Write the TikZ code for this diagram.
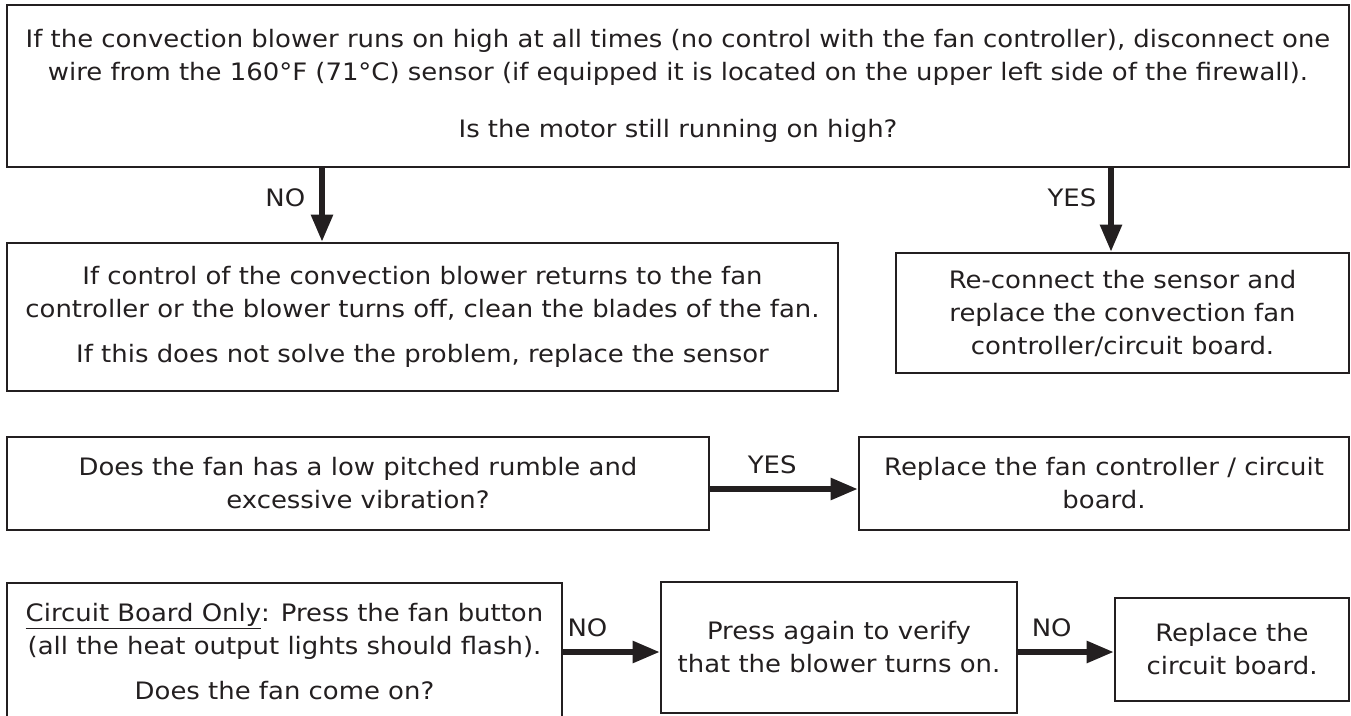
\documentclass[tikz,border=0pt]{standalone}
\usepackage{fontspec}
\setmainfont{DejaVu Sans}[FakeStretch=1.08]
\usetikzlibrary{arrows.meta,positioning}
\definecolor{ink}{HTML}{231F20}

\begin{document}
\begin{tikzpicture}[
    x=1pt, y=-1pt,
    box/.style={rectangle, draw=ink, text=ink, line width=2.6pt, align=center, inner sep=0pt, font=\fontsize{24}{33}\selectfont},
    lbl/.style={text=ink, inner sep=0pt, font=\fontsize{24}{33}\selectfont},
    arrow/.style={-{Triangle[length=27pt, width=21pt]}, line width=5.5pt, draw=ink}
  ]
    \useasboundingbox (0,0) rectangle (1351,715);

    % first question and its two answers
    \node[box, minimum width=1342pt, minimum height=162pt] (motor) at (678,86)
      {If the convection blower runs on high at all times (no control with the fan controller), disconnect one\\
       wire from the 160°F (71°C) sensor (if equipped it is located on the upper left side of the firewall).\\[24pt]
       Is the motor still running on high?};
    \node[box, minimum width=831pt, minimum height=148pt] (clean) at (422.5,317)
      {If control of the convection blower returns to the fan\\
       controller or the blower turns off, clean the blades of the fan.\\[12pt]
       If this does not solve the problem, replace the sensor};
    \node[box, minimum width=453pt, minimum height=120pt] (reconnect) at (1122.5,313)
      {Re-connect the sensor and\\replace the convection fan\\controller/circuit board.};

    % rumble check
    \node[box, minimum width=702pt, minimum height=93pt] (rumble) at (358,483.5)
      {Does the fan has a low pitched rumble and\\excessive vibration?};
    \node[box, minimum width=490pt, minimum height=93pt] (fanctrl) at (1104,483.5)
      {Replace the fan controller / circuit\\board.};

    % circuit board only
    \node[box, minimum width=555pt, minimum height=138pt] (press) at (284.5,652)
      {\underline{Circuit Board Only}: Press the fan button\\
       (all the heat output lights should flash).\\[12pt]
       Does the fan come on?};
    \node[box, minimum width=356pt, minimum height=131pt] (verify) at (839,647.5)
      {Press again to verify\\that the blower turns on.};
    \node[box, minimum width=234pt, minimum height=103pt] (board) at (1232,649.5)
      {Replace the\\circuit board.};

    \coordinate (noX) at (322,0);
    \coordinate (yesX) at (1111,0);
    \coordinate (yesY) at (0,489);
    \coordinate (rowY) at (0,652);

    \draw[arrow] (motor.south -| noX) -- node[lbl, pos=0.4, left=14pt] {NO} (clean.north -| noX);
    \draw[arrow] (motor.south -| yesX) -- node[lbl, pos=0.35, left=12pt] {YES} (reconnect.north -| yesX);
    \draw[arrow] (rumble.east |- yesY) -- node[lbl, pos=0.42, above=12pt] {YES} (fanctrl.west |- yesY);
    \draw[arrow] (press.east |- rowY) -- node[lbl, pos=0.25, above=12pt] {NO} (verify.west |- rowY);
    \draw[arrow] (verify.east |- rowY) -- node[lbl, pos=0.35, above=12pt] {NO} (board.west |- rowY);
\end{tikzpicture}
\end{document}
